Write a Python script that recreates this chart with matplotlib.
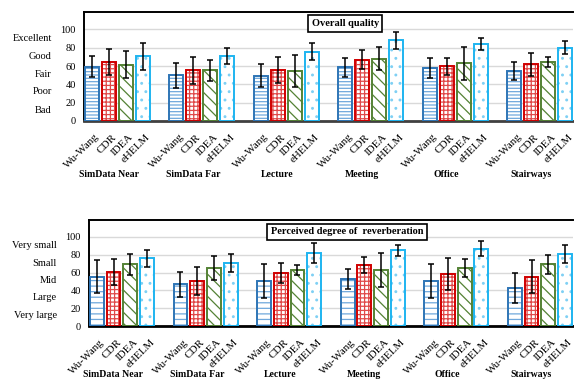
import numpy as np
import matplotlib
matplotlib.use('Agg')
import matplotlib.pyplot as plt
from matplotlib.transforms import ScaledTranslation

plt.rcParams['font.family'] = ['Liberation Serif', 'DejaVu Serif']
plt.rcParams['hatch.linewidth'] = 0.9

groups = ['SimData Near', 'SimData Far', 'Lecture', 'Meeting', 'Office', 'Stairways']
methods = ['Wu-Wang', 'CDR', 'IDEA', 'eHELM']

# Overall quality (mean, std) per method, one value per group
quality_mean = {
    'Wu-Wang': [59.3, 49.8, 49.5, 58.5, 57.8, 54.2],
    'CDR':     [64.4, 55.6, 56.0, 67.0, 59.6, 61.8],
    'IDEA':    [61.5, 55.3, 54.5, 68.0, 63.0, 64.4],
    'eHELM':   [70.5, 71.0, 75.6, 88.0, 84.4, 80.0],
}
quality_err = {
    'Wu-Wang': [11.7, 13.9, 12.7, 10.4, 10.5, 9.7],
    'CDR':     [14.2, 14.8, 14.2, 10.5, 9.1, 12.4],
    'IDEA':    [14.9, 11.7, 17.7, 12.7, 18.3, 5.5],
    'eHELM':   [15.0, 9.1, 9.5, 9.3, 6.5, 7.2],
}

# Perceived degree of reverberation
reverb_mean = {
    'Wu-Wang': [55.4, 46.9, 51.0, 52.8, 50.9, 42.8],
    'CDR':     [60.5, 50.6, 59.8, 68.8, 58.4, 55.4],
    'IDEA':    [69.4, 65.0, 62.8, 62.8, 65.0, 69.1],
    'eHELM':   [76.0, 70.5, 81.8, 84.8, 87.0, 81.0],
}
reverb_err = {
    'Wu-Wang': [18.6, 14.0, 19.0, 10.8, 19.2, 16.8],
    'CDR':     [14.8, 16.2, 11.1, 8.9, 18.2, 18.6],
    'IDEA':    [11.6, 13.7, 5.6, 18.8, 10.0, 10.6],
    'eHELM':   [9.6, 10.4, 11.2, 6.6, 8.0, 10.3],
}

quality_levels = ['Bad', 'Poor', 'Fair', 'Good', 'Excellent']
reverb_levels = ['Very large', 'Large', 'Mid', 'Small', 'Very small']
level_pos = [12, 32, 51, 70, 90]

edge_col = {'Wu-Wang': '#2E75B6', 'CDR': '#D00000', 'IDEA': '#548235', 'eHELM': '#1EB4F0'}
hatch_col = {'Wu-Wang': '#6FA8DC', 'CDR': '#E04848', 'IDEA': '#548235', 'eHELM': '#7FD0F4'}


def draw_panel(ax, means, errs, levels, title, stripes, title_x, title_y, spine_col, label_dy):
    width = 0.165
    step = 0.2
    xg = np.arange(len(groups))
    ticks, labels = [], []
    for j, m in enumerate(methods):
        x = xg + step * j
        h = {'Wu-Wang': stripes, 'CDR': '++++', 'IDEA': '\\\\\\', 'eHELM': '..'}[m]
        ax.bar(x, means[m], width, align='edge', color='white', edgecolor=hatch_col[m],
               hatch=h, linewidth=0, zorder=2)
        ax.bar(x, means[m], width, align='edge', fill=False, edgecolor=edge_col[m],
               linewidth=1.4, zorder=3)
        ax.errorbar(x + width / 2, means[m], yerr=errs[m], fmt='none', ecolor='black',
                    elinewidth=1.1, capsize=2, capthick=1.1, zorder=4)
        ticks += list(x + width / 2)
        labels += [m] * len(groups)

    ax.set_xlim(-0.012, len(groups) - 1 + step * 3 + width + 0.012)
    ax.set_ylim(0, 119)
    ax.set_yticks([0, 20, 40, 60, 80, 100])
    ax.yaxis.grid(True, color='#D9D9D9', linewidth=1.0, zorder=0)
    ax.set_axisbelow(True)
    ax.tick_params(axis='y', length=0, pad=6, labelsize=7.5)
    ax.set_xticks(ticks)
    ax.set_xticklabels(labels, rotation=45, ha='right', va='center',
                       rotation_mode='anchor', fontsize=8)
    ax.tick_params(axis='x', length=0, pad=9)
    shift = ScaledTranslation(0.06, -0.02, ax.figure.dpi_scale_trans)
    for lbl in ax.get_xticklabels():
        lbl.set_transform(lbl.get_transform() + shift)

    for s in ['left', 'top']:
        ax.spines[s].set_color('black')
        ax.spines[s].set_linewidth(1.4)
    ax.spines['right'].set_visible(False)
    ax.spines['bottom'].set_color(spine_col)
    ax.spines['bottom'].set_linewidth(2.0)

    tr = ax.get_yaxis_transform() + ScaledTranslation(-0.32, 0, ax.figure.dpi_scale_trans)
    for lv, yp in zip(levels, level_pos):
        ax.text(0, yp, lv, transform=tr, ha='right', va='center', fontsize=7.5)

    for i, g in enumerate(groups):
        ax.annotate(g, xy=(i + 0.28, 0), xycoords=('data', 'axes fraction'),
                    xytext=(0, label_dy), textcoords='offset points',
                    ha='center', va='center', fontsize=7, fontweight='bold')

    ax.text(title_x, title_y, title, transform=ax.transAxes, ha='center', va='center',
            fontsize=7.5, fontweight='bold',
            bbox=dict(boxstyle='square,pad=0.35', facecolor='white', edgecolor='black',
                      linewidth=1.2))


fig = plt.figure(figsize=(5.74, 3.8), dpi=100)
ax1 = fig.add_axes([0.1463, 0.6816, 0.852, 0.2868])
ax2 = fig.add_axes([0.155, 0.1421, 0.843, 0.2789])

draw_panel(ax1, quality_mean, quality_err, quality_levels, 'Overall quality',
           '-----', 0.534, 0.894, '#404040', -38.5)
draw_panel(ax2, reverb_mean, reverb_err, reverb_levels, 'Perceived degree of  reverberation',
           '---', 0.533, 0.887, 'black', -35)

fig.savefig('out.png', dpi=100)
